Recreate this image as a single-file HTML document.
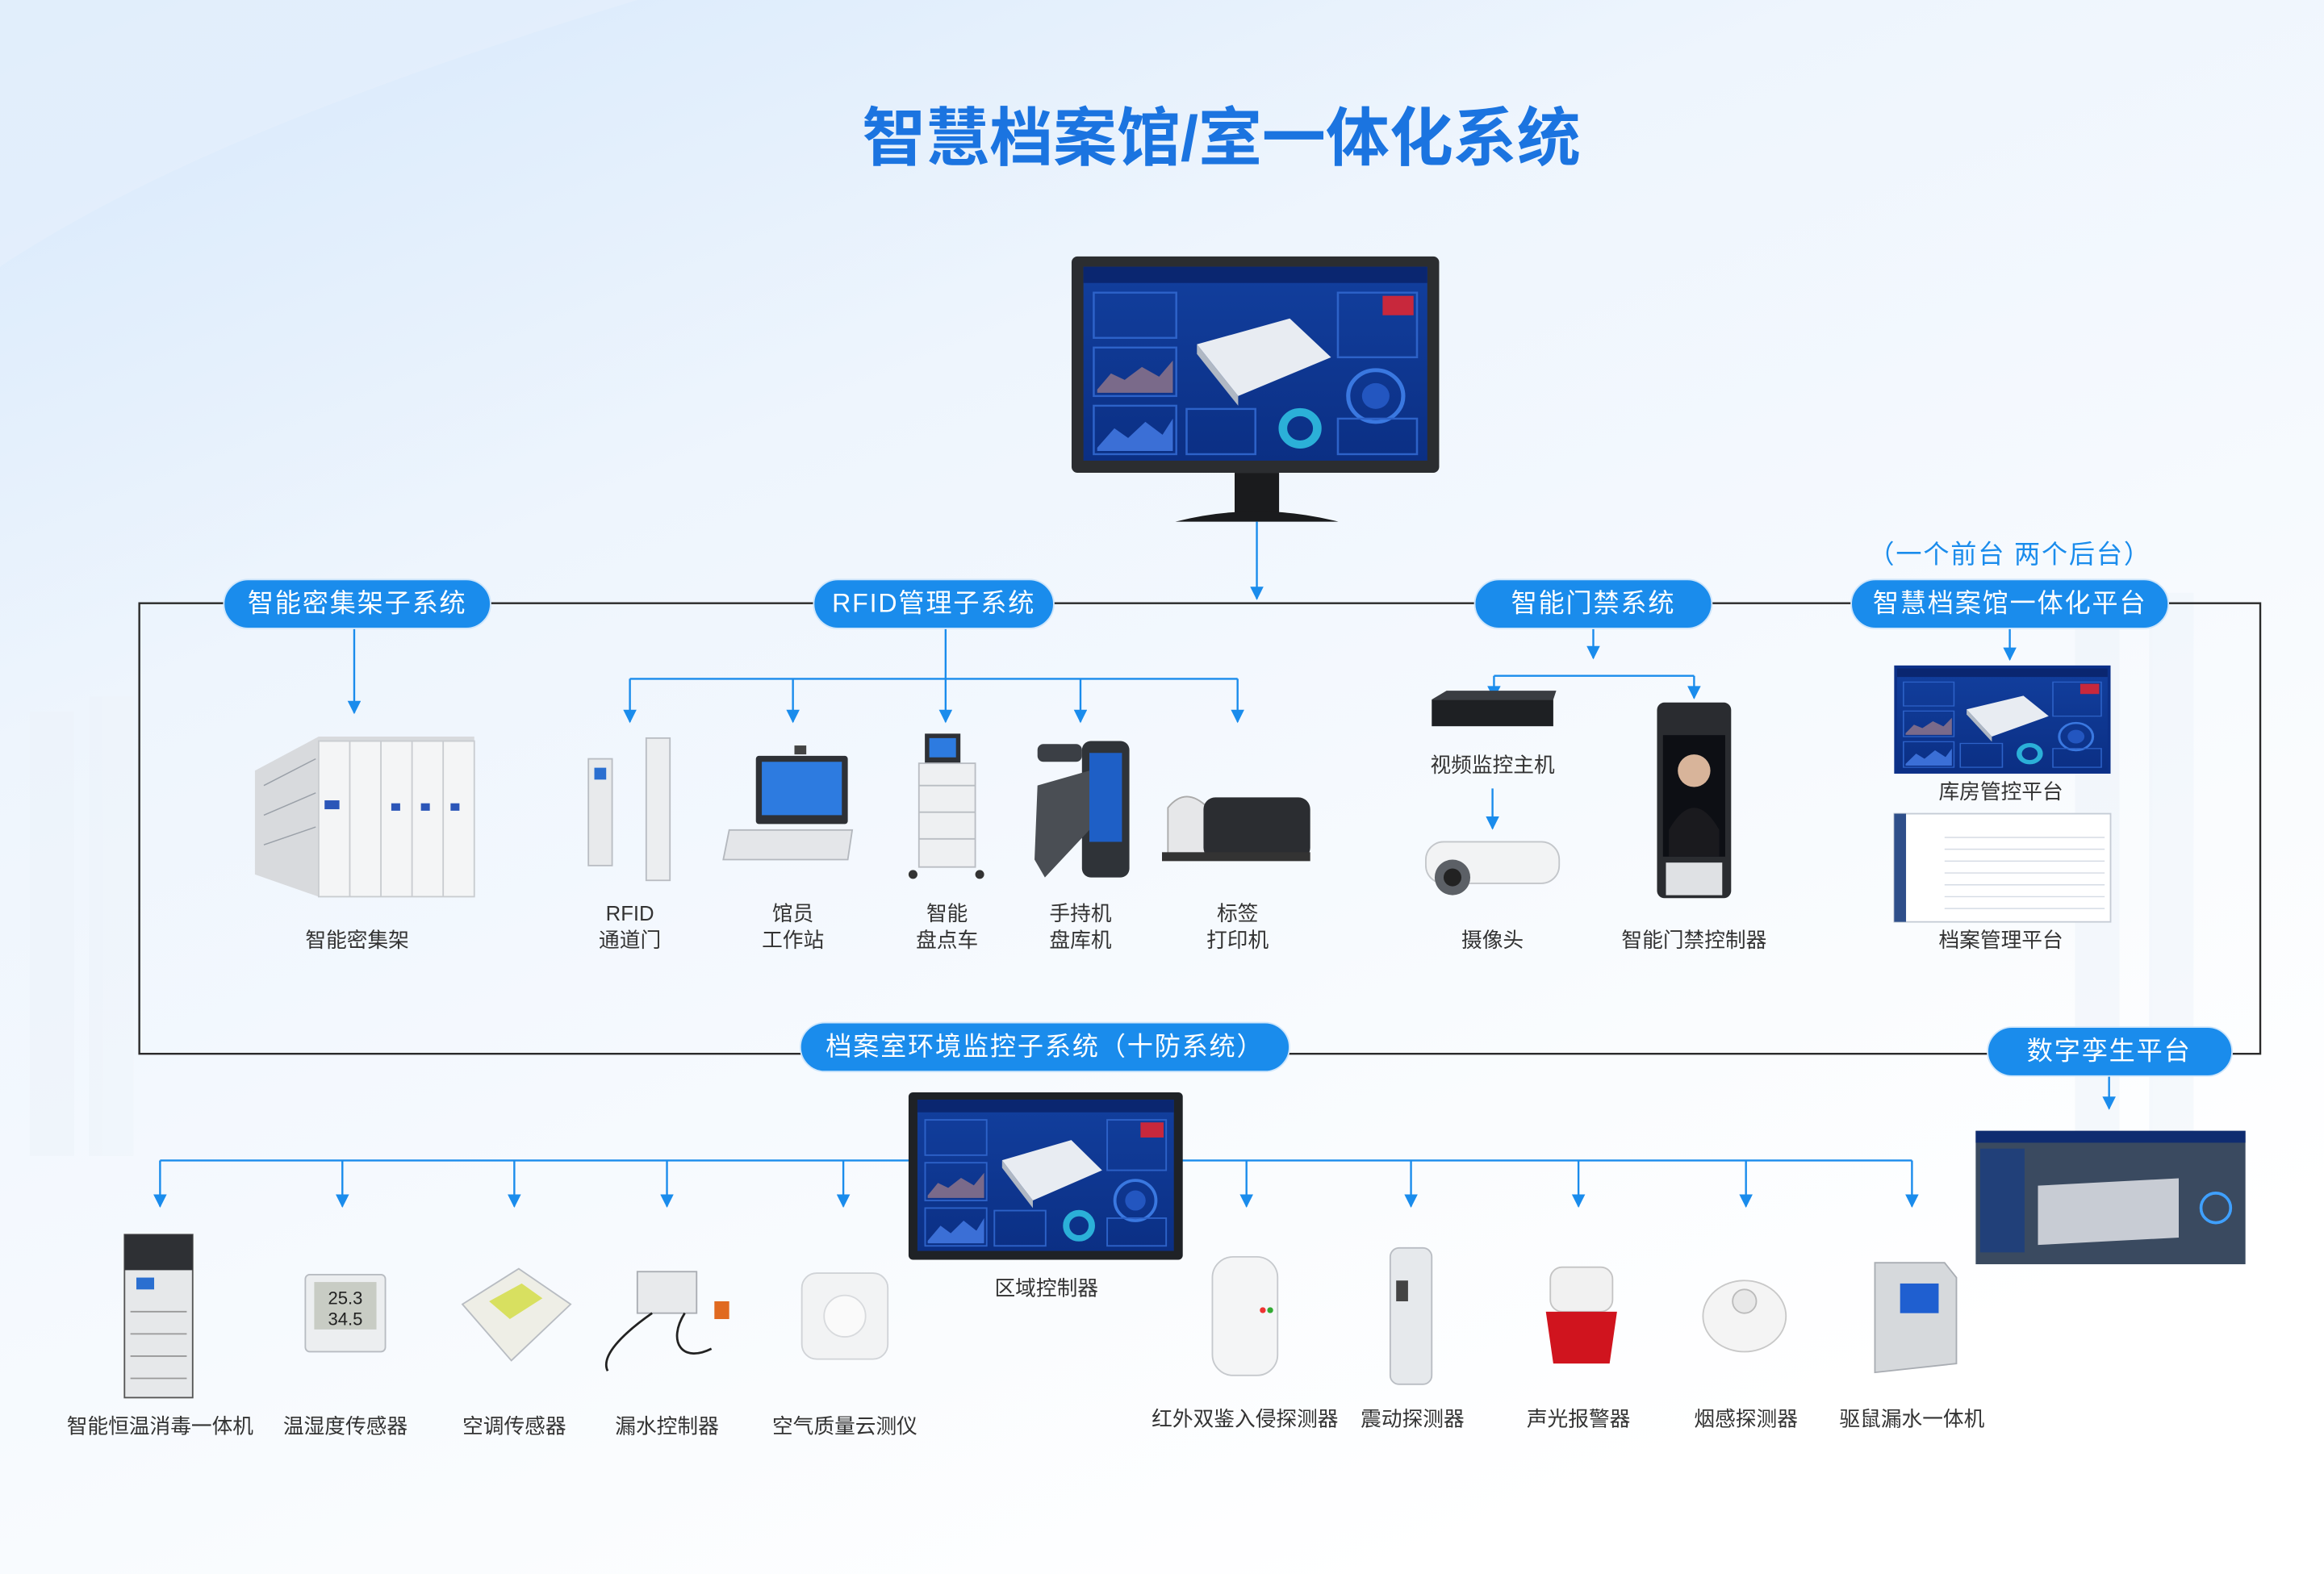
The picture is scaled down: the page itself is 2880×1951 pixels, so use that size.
<!DOCTYPE html>
<html><head><meta charset="utf-8">
<style>
html,body{margin:0;padding:0;width:2880px;height:1951px;overflow:hidden;background:#f2f8fe;}
svg{display:block}
text{font-family:"Liberation Sans","Noto Sans CJK SC",sans-serif;}
</style></head><body>
<svg width="2880" height="1951" viewBox="0 0 1568 1062" preserveAspectRatio="none" xmlns="http://www.w3.org/2000/svg">
<defs>
<linearGradient id="bg" x1="0" y1="0" x2="0.6" y2="1">
<stop offset="0" stop-color="#d6e8fb"/><stop offset="0.35" stop-color="#eef5fd"/><stop offset="1" stop-color="#ffffff"/>
</linearGradient>
<linearGradient id="scr" x1="0" y1="0" x2="0" y2="1">
<stop offset="0" stop-color="#123f9e"/><stop offset="1" stop-color="#0b2f84"/>
</linearGradient>
<marker id="ar" viewBox="0 0 10 10" refX="9" refY="5" markerWidth="10" markerHeight="9" orient="auto" markerUnits="userSpaceOnUse">
<path d="M0,0 L10,5 L0,10 z" fill="#1a8cec"/></marker>
<g id="dash">
<rect width="100" height="60" fill="url(#scr)"/>
<rect x="0" y="0" width="100" height="5" fill="#0a2670"/>
<rect x="3" y="8" width="24" height="14" fill="none" stroke="#2d62c8" stroke-width="0.6"/>
<rect x="3" y="25" width="24" height="15" fill="none" stroke="#2d62c8" stroke-width="0.6"/>
<path d="M4,38 L8,33 L12,35 L17,31 L22,34 L26,29 L26,39 L4,39z" fill="#7a6a8a"/>
<rect x="3" y="43" width="24" height="15" fill="none" stroke="#2d62c8" stroke-width="0.6"/>
<path d="M4,56 L9,50 L13,53 L18,48 L23,52 L26,47 L26,57 L4,57z" fill="#3b6fd6"/>
<path d="M33,24 L60,16 L72,28 L45,40z" fill="#e8ecf2"/>
<path d="M33,24 L45,40 L45,43 L33,27z" fill="#b0b8c4"/>
<rect x="74" y="8" width="23" height="20" fill="none" stroke="#2d62c8" stroke-width="0.6"/>
<rect x="87" y="9" width="9" height="6" fill="#c8283c"/>
<circle cx="85" cy="40" r="8" fill="none" stroke="#3a78e0" stroke-width="1.2"/>
<circle cx="85" cy="40" r="4" fill="#2356c0"/>
<circle cx="63" cy="50" r="5" fill="none" stroke="#2bb0d8" stroke-width="2.5"/>
<rect x="74" y="47" width="23" height="11" fill="none" stroke="#2d62c8" stroke-width="0.6"/>
<rect x="30" y="44" width="20" height="14" fill="none" stroke="#2d62c8" stroke-width="0.6"/>
</g>
</defs>
<rect width="1568" height="1062" fill="url(#bg)"/>
<path d="M0,0 L430,0 C300,40 120,100 0,180z" fill="#e4effb" opacity="0.8"/>
<g fill="#edf3fa" opacity="0.5">
<rect x="20" y="480" width="30" height="300"/><rect x="60" y="470" width="30" height="310"/>
<rect x="1400" y="420" width="30" height="360"/><rect x="1450" y="400" width="30" height="380"/>
</g>

<text x="824" y="108" text-anchor="middle" font-size="43" font-weight="bold" fill="#1b74e0">智慧档案馆/室一体化系统</text>

<!-- monitor -->
<rect x="723" y="173" width="248" height="146" rx="4" fill="#2b2d30"/>
<use href="#dash" transform="translate(731,180) scale(2.32,2.18)"/>
<rect x="833" y="319" width="30" height="28" fill="#1a1b1d"/>
<path d="M793,352 Q848,338 903,352z" fill="#1a1b1d"/>

<g stroke="#2a2a2a" stroke-width="1.3" fill="none">
<rect x="94" y="407" width="1431" height="304"/>
</g>
<g stroke="#1a8cec" stroke-width="1.3" fill="none">
<line x1="848" y1="352" x2="848" y2="404" marker-end="url(#ar)"/>
<line x1="239" y1="423" x2="239" y2="481" marker-end="url(#ar)"/>
<line x1="638" y1="423" x2="638" y2="458"/>
<line x1="425" y1="458" x2="835" y2="458"/>
<line x1="425" y1="458" x2="425" y2="487" marker-end="url(#ar)"/>
<line x1="535" y1="458" x2="535" y2="487" marker-end="url(#ar)"/>
<line x1="638" y1="458" x2="638" y2="487" marker-end="url(#ar)"/>
<line x1="729" y1="458" x2="729" y2="487" marker-end="url(#ar)"/>
<line x1="835" y1="458" x2="835" y2="487" marker-end="url(#ar)"/>
<line x1="1075" y1="423" x2="1075" y2="444" marker-end="url(#ar)"/>
<line x1="1008" y1="456" x2="1143" y2="456"/>
<line x1="1008" y1="456" x2="1008" y2="471" marker-end="url(#ar)"/>
<line x1="1143" y1="456" x2="1143" y2="471" marker-end="url(#ar)"/>
<line x1="1007" y1="532" x2="1007" y2="559" marker-end="url(#ar)"/>
<line x1="1356" y1="423" x2="1356" y2="445" marker-end="url(#ar)"/>
<line x1="1423" y1="726" x2="1423" y2="748" marker-end="url(#ar)"/>
<line x1="108" y1="783" x2="1290" y2="783"/>
<line x1="108" y1="783" x2="108" y2="814" marker-end="url(#ar)"/>
<line x1="231" y1="783" x2="231" y2="814" marker-end="url(#ar)"/>
<line x1="347" y1="783" x2="347" y2="814" marker-end="url(#ar)"/>
<line x1="450" y1="783" x2="450" y2="814" marker-end="url(#ar)"/>
<line x1="569" y1="783" x2="569" y2="814" marker-end="url(#ar)"/>
<line x1="841" y1="783" x2="841" y2="814" marker-end="url(#ar)"/>
<line x1="952" y1="783" x2="952" y2="814" marker-end="url(#ar)"/>
<line x1="1065" y1="783" x2="1065" y2="814" marker-end="url(#ar)"/>
<line x1="1178" y1="783" x2="1178" y2="814" marker-end="url(#ar)"/>
<line x1="1290" y1="783" x2="1290" y2="814" marker-end="url(#ar)"/>
</g>

<g fill="#1a8cec" stroke="#cfe6fb" stroke-width="1">
<rect x="151" y="391" width="180" height="33" rx="16.5"/>
<rect x="549" y="391" width="162" height="33" rx="16.5"/>
<rect x="995" y="391" width="160" height="33" rx="16.5"/>
<rect x="1249" y="391" width="214" height="33" rx="16.5"/>
<rect x="540" y="690" width="330" height="33" rx="16.5"/>
<rect x="1341" y="693" width="165" height="33" rx="16.5"/>
</g>
<g fill="#fff" font-size="17.5" text-anchor="middle" letter-spacing="1">
<text x="241" y="413">智能密集架子系统</text>
<text x="630" y="413">RFID管理子系统</text>
<text x="1075" y="413">智能门禁系统</text>
<text x="1356" y="413">智慧档案馆一体化平台</text>
<text x="705" y="712">档案室环境监控子系统（十防系统）</text>
<text x="1423" y="715">数字孪生平台</text>
</g>
<text x="1356" y="380" text-anchor="middle" font-size="17.5" fill="#1a8cec" letter-spacing="1">（一个前台 两个后台）</text>

<g>
<path d="M172,520 L215,497 L320,497 L320,605 L215,605 L172,590z" fill="#d8dadd"/>
<rect x="215" y="500" width="105" height="105" fill="#f4f5f6" stroke="#c9ccd0"/>
<g stroke="#c9ccd0"><line x1="236" y1="500" x2="236" y2="605"/><line x1="257" y1="500" x2="257" y2="605"/><line x1="278" y1="500" x2="278" y2="605"/><line x1="299" y1="500" x2="299" y2="605"/></g>
<g fill="#2b56b8"><rect x="219" y="540" width="10" height="6"/><rect x="264" y="542" width="6" height="5"/><rect x="284" y="542" width="6" height="5"/><rect x="304" y="542" width="6" height="5"/></g>
<g stroke="#9aa0a8" stroke-width="0.8"><line x1="178" y1="530" x2="213" y2="512"/><line x1="178" y1="550" x2="213" y2="535"/><line x1="178" y1="570" x2="213" y2="558"/></g>
</g>
<rect x="397" y="512" width="16" height="72" fill="#e8eaec" stroke="#b9bdc3"/>
<rect x="401" y="518" width="8" height="8" fill="#2b6fd0"/>
<rect x="436" y="498" width="16" height="96" fill="#eceef0" stroke="#b9bdc3"/>
<rect x="510" y="510" width="62" height="46" rx="2" fill="#2e3136"/>
<rect x="514" y="514" width="54" height="36" fill="#2d7be0"/>
<path d="M492,560 L575,560 L572,580 L488,580z" fill="#e4e6e9" stroke="#b4b8be"/>
<rect x="536" y="503" width="8" height="6" fill="#444"/>
<rect x="624" y="495" width="24" height="20" fill="#2e3136"/><rect x="627" y="498" width="18" height="13" fill="#2d7be0"/>
<rect x="620" y="515" width="38" height="70" fill="#eef0f2" stroke="#b9bdc3"/>
<g stroke="#b9bdc3"><line x1="620" y1="530" x2="658" y2="530"/><line x1="620" y1="548" x2="658" y2="548"/><line x1="620" y1="566" x2="658" y2="566"/></g>
<circle cx="616" cy="590" r="3" fill="#333"/><circle cx="661" cy="590" r="3" fill="#333"/>
<rect x="730" y="500" width="32" height="92" rx="6" fill="#2f3338"/>
<rect x="735" y="508" width="22" height="60" fill="#1e5fc6"/>
<path d="M700,530 L735,520 L735,560 L705,592 L698,580z" fill="#4a4e54"/>
<rect x="700" y="502" width="30" height="12" rx="4" fill="#3b3f45"/>
<path d="M788,545 Q800,530 815,545 L815,580 L788,580z" fill="#e6e7e9" stroke="#aaa"/>
<rect x="812" y="538" width="72" height="42" rx="8" fill="#2b2d31"/>
<rect x="784" y="575" width="100" height="6" fill="#333"/>

<rect x="966" y="472" width="82" height="18" fill="#1e2023"/>
<path d="M966,472 L976,466 L1050,466 L1048,472z" fill="#3a3d42"/>
<rect x="962" y="568" width="90" height="28" rx="12" fill="#f2f3f4" stroke="#c3c6ca"/>
<circle cx="980" cy="592" r="12" fill="#5c6066"/><circle cx="980" cy="592" r="6" fill="#222"/>
<rect x="1118" y="474" width="50" height="132" rx="5" fill="#2a2c30"/>
<rect x="1122" y="496" width="42" height="82" fill="#0d0f14"/>
<circle cx="1143" cy="520" r="11" fill="#d8b49a"/><path d="M1126,560 Q1143,530 1160,560 L1160,578 L1126,578z" fill="#1a1a1e"/>
<rect x="1124" y="582" width="38" height="22" fill="#dfe1e4"/>

<rect x="1278" y="449" width="146" height="73" fill="#0c3088"/>
<use href="#dash" transform="translate(1280,451) scale(1.42,1.15)"/>
<rect x="1278" y="549" width="146" height="73" fill="#fff" stroke="#c5ccd6"/>
<rect x="1278" y="549" width="8" height="73" fill="#2f4f8a"/>
<g stroke="#d5dbe4" stroke-width="0.8">
<line x1="1312" y1="565" x2="1420" y2="565"/><line x1="1312" y1="573" x2="1420" y2="573"/><line x1="1312" y1="581" x2="1420" y2="581"/><line x1="1312" y1="589" x2="1420" y2="589"/><line x1="1312" y1="597" x2="1420" y2="597"/><line x1="1312" y1="605" x2="1420" y2="605"/><line x1="1312" y1="613" x2="1420" y2="613"/></g>

<g font-size="14" fill="#333" text-anchor="middle">
<text x="241" y="639">智能密集架</text>
<text x="425" y="621">RFID</text><text x="425" y="639">通道门</text>
<text x="535" y="621">馆员</text><text x="535" y="639">工作站</text>
<text x="639" y="621">智能</text><text x="639" y="639">盘点车</text>
<text x="729" y="621">手持机</text><text x="729" y="639">盘库机</text>
<text x="835" y="621">标签</text><text x="835" y="639">打印机</text>
<text x="1007" y="521">视频监控主机</text>
<text x="1007" y="639">摄像头</text>
<text x="1143" y="639">智能门禁控制器</text>
<text x="1350" y="539">库房管控平台</text>
<text x="1350" y="639">档案管理平台</text>
</g>

<rect x="613" y="737" width="185" height="113" rx="3" fill="#1f2226"/>
<use href="#dash" transform="translate(619,742) scale(1.73,1.7)"/>
<rect x="1333" y="763" width="182" height="90" fill="#3a4a60"/>
<rect x="1333" y="763" width="182" height="8" fill="#0f2c70"/>
<path d="M1375,800 L1470,795 L1470,835 L1375,840z" fill="#c8ccd4"/>
<circle cx="1495" cy="815" r="10" fill="none" stroke="#3fa0ff" stroke-width="2"/>
<rect x="1336" y="775" width="30" height="70" fill="#1c3d80" opacity="0.8"/>

<rect x="84" y="833" width="46" height="110" fill="#e6e8ea" stroke="#555"/>
<rect x="84" y="833" width="46" height="24" fill="#2e3034"/>
<rect x="92" y="862" width="12" height="8" fill="#2b6fd0"/>
<g stroke="#999"><line x1="88" y1="885" x2="126" y2="885"/><line x1="88" y1="900" x2="126" y2="900"/><line x1="88" y1="915" x2="126" y2="915"/><line x1="88" y1="930" x2="126" y2="930"/></g>
<rect x="206" y="860" width="54" height="52" rx="3" fill="#eceef0" stroke="#b8bcc2"/>
<rect x="212" y="865" width="42" height="32" fill="#c8ccc4"/>
<text x="233" y="880" text-anchor="middle" font-size="12" font-family="Liberation Mono" fill="#222">25.3</text>
<text x="233" y="894" text-anchor="middle" font-size="12" font-family="Liberation Mono" fill="#222">34.5</text>
<path d="M312,880 L350,856 L385,880 L345,918z" fill="#eeeee6" stroke="#b8bcc2"/>
<path d="M330,878 L352,866 L366,876 L344,890z" fill="#d8e060"/>
<rect x="430" y="858" width="40" height="28" fill="#e8eaec" stroke="#a9adb3"/>
<path d="M440,886 C420,900 405,915 410,925 M462,886 C450,905 460,920 480,910" stroke="#222" fill="none" stroke-width="1.5"/>
<rect x="482" y="878" width="10" height="12" fill="#e06a20"/>
<rect x="541" y="859" width="58" height="58" rx="10" fill="#f2f3f4" stroke="#d0d3d7"/>
<circle cx="570" cy="888" r="14" fill="#fafafa" stroke="#d8dadd"/>
<rect x="818" y="848" width="44" height="80" rx="14" fill="#f4f5f6" stroke="#c6c9cd"/>
<circle cx="852" cy="884" r="2" fill="#e33"/><circle cx="857" cy="884" r="2" fill="#3a3"/>
<rect x="938" y="842" width="28" height="92" rx="6" fill="#e6e9ec" stroke="#b9bdc3"/>
<rect x="942" y="864" width="8" height="14" fill="#444"/>
<rect x="1046" y="855" width="42" height="30" rx="8" fill="#f1f1f1" stroke="#c4c4c4"/>
<path d="M1043,885 L1091,885 L1086,920 L1048,920z" fill="#d0141e"/>
<ellipse cx="1177" cy="888" rx="28" ry="24" fill="#f4f4f4" stroke="#c8c8c8"/>
<circle cx="1177" cy="878" r="8" fill="#e8e8e8" stroke="#bbb"/>
<path d="M1265,852 L1312,852 L1320,862 L1320,920 L1265,926z" fill="#d6d9dc" stroke="#a9adb3"/>
<rect x="1282" y="866" width="26" height="20" fill="#1f5fd0"/>

<g font-size="14" fill="#333" text-anchor="middle">
<text x="108" y="967">智能恒温消毒一体机</text>
<text x="233" y="967">温湿度传感器</text>
<text x="347" y="967">空调传感器</text>
<text x="450" y="967">漏水控制器</text>
<text x="570" y="967">空气质量云测仪</text>
<text x="706" y="874">区域控制器</text>
<text x="840" y="962">红外双鉴入侵探测器</text>
<text x="953" y="962">震动探测器</text>
<text x="1065" y="962">声光报警器</text>
<text x="1178" y="962">烟感探测器</text>
<text x="1290" y="962">驱鼠漏水一体机</text>
</g>
</svg>
</body></html>
